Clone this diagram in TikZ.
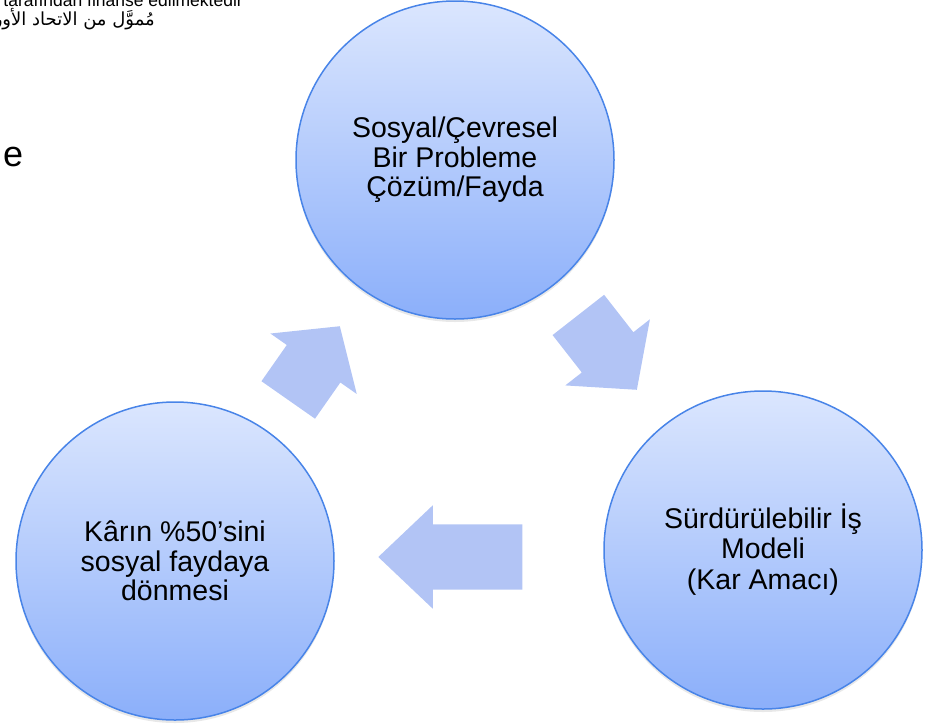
\documentclass[tikz,border=0pt]{standalone}
\usepackage{fontspec}
\setmainfont{Liberation Sans}
\newfontfamily\arabicfont[Script=Arabic]{DejaVu Sans}
\TeXXeTstate=1
\usepackage{xcolor}
\usetikzlibrary{shapes.arrows,shadows}
\definecolor{circtop}{RGB}{219,230,254}
\definecolor{circbot}{RGB}{139,175,250}
\definecolor{circline}{RGB}{72,132,232}
\definecolor{arrowfill}{RGB}{178,196,245}

\begin{document}
\begin{tikzpicture}[
    x=1pt, y=-1pt,
    circ/.style={circle, draw=circline, line width=1.5pt, top color=circtop, bottom color=circbot, minimum size=318pt, inner sep=0pt, align=center, font=\fontsize{28.5}{29.5}\selectfont, drop shadow={shadow xshift=0pt, shadow yshift=-3pt, opacity=0.18}},
    cyclearrow/.style={single arrow, fill=arrowfill, draw=none, inner xsep=0pt, inner ysep=32.5pt, single arrow head extend=20pt, anchor=tip}
]
    \useasboundingbox (0,0) rectangle (934,724);
    \clip (0,0) rectangle (934,724);

    % Cut-off slide texts (top left)
    \node[anchor=base east, inner sep=0pt, font=\fontsize{17.5}{20}\selectfont] (fundtr) at (243,6) {tarafından finanse edilmektedir};
    \node[anchor=base east, inner sep=0pt, font=\arabicfont\fontsize{18}{20}\selectfont] (fundar) at (155,25) {\beginR مُموَّل من الاتحاد الأوروبي\endR};
    \node[anchor=base west, inner sep=0pt, font=\fontsize{36}{40}\selectfont] (cutword) at (3,166) {e};

    % Block arrows of the cycle
    \node[cyclearrow, rotate=55, minimum height=90pt, single arrow tip angle=98] (arrowup) at (340,326) {};
    \node[cyclearrow, rotate=-52, minimum height=95pt, single arrow head extend=21pt, single arrow tip angle=97] (arrowdown) at (637,390) {};
    \node[cyclearrow, rotate=180, minimum height=144pt, single arrow head extend=19pt, single arrow tip angle=87] (arrowback) at (378,557) {};

    % The three circles
    \node[circ] (problem) at (455,160) {Sosyal/Çevresel\\Bir Probleme\\Çözüm/Fayda};
    \node[circ] (model) at (763,550) {Sürdürülebilir İş\\Modeli\\[2pt](Kar Amacı)};
    \node[circ] (profit) at (175,561) {Kârın \%50’sini\\sosyal faydaya\\dönmesi};
\end{tikzpicture}
\end{document}
